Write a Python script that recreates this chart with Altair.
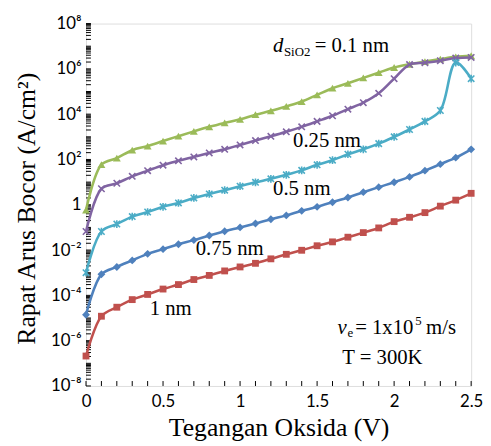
import math
import altair as alt
import pandas as pd

# ---------------- data ----------------
voltage = [0.0, 0.1, 0.2, 0.3, 0.4, 0.5, 0.6, 0.7, 0.8, 0.9, 1.0, 1.1, 1.2,
           1.3, 1.4, 1.5, 1.6, 1.7, 1.8, 1.9, 2.0, 2.1, 2.2, 2.3, 2.4, 2.5]

j_01nm = [0.58, 59, 115, 257, 390, 650, 1070, 1740, 2750, 4100, 5900, 9500, 1.4e4,
          2.2e4, 3.6e4, 7.1e4, 1.4e5, 2.3e5, 4.0e5, 6.8e5, 1.15e6, 1.6e6, 2.1e6,
          2.7e6, 3.4e6, 3.8e6]
j_025nm = [6.6e-2, 5.1, 8.9, 18, 32, 56, 87, 130, 195, 280, 440, 680, 1050,
           1660, 2750, 4800, 8500, 1.66e4, 3.2e4, 8.3e4, 3.7e5, 1.55e6, 1.86e6,
           2.3e6, 3.0e6, 3.2e6]
j_05nm = [1.0e-3, 6.6e-2, 0.14, 0.30, 0.48, 0.81, 1.2, 2.0, 3.0, 4.4, 6.6, 9.8, 14,
          21, 33, 58, 93, 170, 280, 500, 1000, 2100, 4800, 1.45e4, 1.9e6, 3.7e5]
j_075nm = [1.4e-5, 8.5e-4, 1.8e-3, 3.5e-3, 6.8e-3, 1.1e-2, 1.8e-2, 2.75e-2, 4.4e-2,
           6.8e-2, 0.10, 0.15, 0.23, 0.34, 0.54, 0.81, 1.3, 2.1, 3.6, 6.0, 9.8, 17,
           32, 62, 120, 280]
j_1nm = [2.1e-7, 1.2e-5, 3.0e-5, 6.5e-5, 1.1e-4, 1.9e-4, 3.0e-4, 5.0e-4, 7.6e-4,
         1.2e-3, 1.8e-3, 2.6e-3, 4.1e-3, 6.5e-3, 9.8e-3, 1.55e-2, 2.3e-2, 3.7e-2,
         5.9e-2, 9.5e-2, 0.18, 0.28, 0.45, 0.87, 1.6, 3.2]

series_labels = ["0.1 nm", "0.25 nm", "0.5 nm", "0.75 nm", "1 nm"]
series_values = [j_01nm, j_025nm, j_05nm, j_075nm, j_1nm]

x_tick_values = [0, 0.5, 1, 1.5, 2, 2.5]
x_tick_labels = ["0", "0.5", "1", "1.5", "2", "2.5"]
y_tick_values = [1e-8, 1e-6, 1e-4, 1e-2, 1, 1e2, 1e4, 1e6, 1e8]
y_tick_labels = ["10⁻⁸", "10⁻⁶", "10⁻⁴", "10⁻²", "1", "10²", "10⁴", "10⁶", "10⁸"]

x_title = "Tegangan Oksida (V)"
y_title = "Rapat Arus Bocor (A/cm²)"

x_minor_ticks = voltage
y_minor_ticks = [k * 10.0 ** n for n in range(-8, 8) for k in range(1, 10)] + [1e8]

# ---------------- styles ----------------
colors = ["#9BBB59", "#8064A2", "#4BACC6", "#4F81BD", "#C0504D"]
shapes = ["triangle-up", "M-1,-1L1,1M-1,1L1,-1", "M-1,-1L1,1M-1,1L1,-1M0,-1.2L0,1.2",
          "diamond", "square"]
filled = [True, False, False, True, True]
sizes = [64, 42, 42, 64, 48]

SERIF = "Liberation Serif"
SANS = "Lato"

rows = []
for name, vals in zip(series_labels, series_values):
    for v, j in zip(voltage, vals):
        rows.append({"V": v, "J": j, "series": name})
df = pd.DataFrame(rows)


def x_expr(values, labels):
    expr = "''"
    for v, l in reversed(list(zip(values, labels))):
        expr = f"abs(datum.value - {v}) < 0.001 ? '{l}' : " + expr
    return expr


def y_expr(values, labels):
    expr = "''"
    for v, l in reversed(list(zip(values, labels))):
        e = round(math.log10(v))
        expr = f"abs(log(datum.value) / LN10 - ({e})) < 0.01 ? '{l}' : " + expr
    return expr


x_scale = alt.Scale(domain=[0, 2.5], nice=False, zero=False)
y_scale = alt.Scale(type="log", domain=[1e-8, 1e8], nice=False)

x_axis = alt.Axis(values=x_tick_values, labelExpr=x_expr(x_tick_values, x_tick_labels),
                  ticks=False, domain=False, grid=False, labelFlush=False,
                  labelOverlap=False, labelFont=SANS, labelFontSize=17,
                  labelColor="black", labelPadding=8, title=x_title,
                  titleFont=SERIF, titleFontSize=26, titleFontWeight="normal",
                  titleColor="black", titleBaseline="alphabetic", titleY=50)
y_axis = alt.Axis(values=y_tick_values, labelExpr=y_expr(y_tick_values, y_tick_labels),
                  ticks=False, domain=False, grid=False, labelFlush=False,
                  labelOverlap=False, labelFont=SANS, labelFontSize=17,
                  labelColor="black", labelPadding=5, title=y_title,
                  titleFont=SERIF, titleFontSize=26, titleFontWeight="normal",
                  titleColor="black", titleX=-60, titleY=187,
                  titleBaseline="middle", titleAlign="center", titleAngle=-90)


def X(field="V"):
    return alt.X(f"{field}:Q", scale=x_scale, axis=x_axis)


def Y(field="J"):
    return alt.Y(f"{field}:Q", scale=y_scale, axis=y_axis)


layers = []

# inward axis ticks
xt = pd.DataFrame({"t": x_minor_ticks})
layers.append(alt.Chart(xt).mark_rule(color="black", strokeWidth=1).encode(
    x=alt.X("t:Q", scale=x_scale, axis=x_axis), y=alt.value(367), y2=alt.value(362)))
yt = pd.DataFrame({"t": y_minor_ticks})
layers.append(alt.Chart(yt).mark_rule(color="black", strokeWidth=1).encode(
    y=alt.Y("t:Q", scale=y_scale, axis=y_axis), x=alt.value(0), x2=alt.value(5)))

# series
for name, col, shp, fl, sz in zip(series_labels, colors, shapes, filled, sizes):
    sub = df[df["series"] == name]
    base = alt.Chart(sub)
    layers.append(base.mark_line(color=col, strokeWidth=2.6,
                                 interpolate="catmull-rom").encode(x=X(), y=Y()))
    if fl:
        pts = base.mark_point(shape=shp, size=sz, filled=True, color=col, opacity=1)
    else:
        pts = base.mark_point(shape=shp, size=sz, filled=False, color=col,
                              strokeWidth=1.6, opacity=1)
    layers.append(pts.encode(x=X(), y=Y()))

# annotations
ann_labels = ["d", "SiO2", "= 0.1 nm", "0.25 nm", "0.5 nm", "0.75 nm", "1 nm",
              "v", "e", "= 1x10", "5", "m/s", "T = 300K"]


def note(text, x, y, size=21, italic=False):
    mk = dict(align="left", baseline="alphabetic", font=SERIF, fontSize=size,
              color="black")
    if italic:
        mk["fontStyle"] = "italic"
    return alt.Chart(pd.DataFrame({"label": [text]})).mark_text(**mk).encode(
        x=alt.datum(x, scale=x_scale), y=alt.datum(y, scale=y_scale),
        text="label:N")


layers += [
    note(ann_labels[0], 1.214, 5.56e6, italic=True),
    note(ann_labels[1], 1.285, 3.72e6, size=13),
    note(ann_labels[2], 1.484, 5.56e6),
    note(ann_labels[3], 1.344, 345),
    note(ann_labels[4], 1.214, 2.79),
    note(ann_labels[5], 0.712, 6.1e-3),
    note(ann_labels[6], 0.413, 1.34e-5),
    note(ann_labels[7], 1.633, 2.0e-6, italic=True),
    note(ann_labels[8], 1.697, 1.4e-6, size=13),
    note(ann_labels[9], 1.747, 2.0e-6),
    note(ann_labels[10], 2.137, 4.8e-6, size=13),
    note(ann_labels[11], 2.207, 2.0e-6),
    note(ann_labels[12], 1.663, 9.8e-8),
]

chart = alt.layer(*layers).properties(
    width=390, height=367, autosize="none",
    padding={"left": 79, "top": 13, "right": 12, "bottom": 56},
).configure_view(stroke="black", strokeWidth=1.5).configure(background="white")

chart.save("out.html", embed_options={"renderer": "svg", "actions": False})
